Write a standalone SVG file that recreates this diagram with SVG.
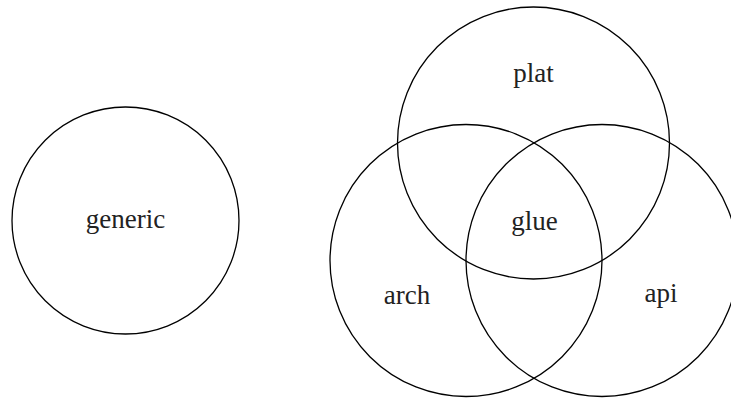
<svg xmlns="http://www.w3.org/2000/svg" width="731" height="399" viewBox="0 0 731 399">
  <style>
    .set { fill: none; stroke: #000; stroke-width: 1.3; }
    .lbl { font-family: "Liberation Serif", "DejaVu Serif", serif; font-size: 27px; fill: #222; text-anchor: middle; }
  </style>
  <rect width="731" height="399" fill="#fff"/>
  <g id="generic">
    <circle class="set" cx="125.5" cy="220.5" r="113.5"/>
    <text class="lbl" x="125.5" y="228">generic</text>
  </g>
  <g id="plat">
    <circle class="set" cx="533.5" cy="143" r="136"/>
    <text class="lbl" x="533.5" y="82">plat</text>
  </g>
  <g id="arch">
    <circle class="set" cx="466" cy="260.5" r="136"/>
    <text class="lbl" x="407" y="304">arch</text>
  </g>
  <g id="api">
    <circle class="set" cx="602" cy="260.5" r="136"/>
    <text class="lbl" x="661" y="302">api</text>
  </g>
  <g id="glue">
    <text class="lbl" x="534.5" y="230">glue</text>
  </g>
  <g id="connectors"/>
</svg>
